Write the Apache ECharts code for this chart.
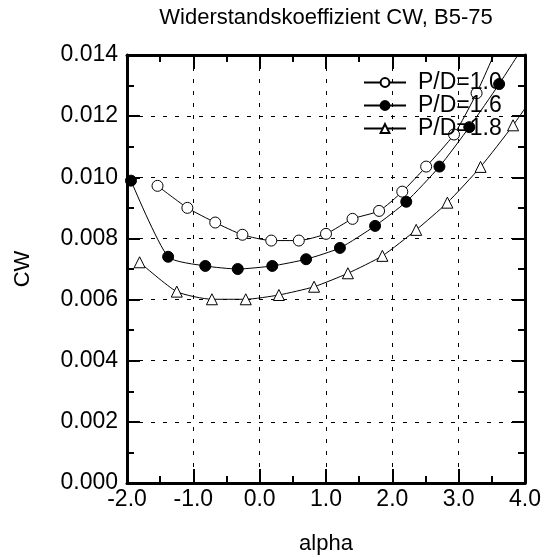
<!DOCTYPE html>
<html>
<head>
<meta charset="utf-8">
<script src="https://cdn.jsdelivr.net/npm/echarts@6/dist/echarts.min.js"></script>
<style>html,body{margin:0;padding:0;background:#fff}#c{width:544px;height:557px}</style>
</head>
<body>
<div id="c"></div>
<script>
// Data
var titleText = 'Widerstandskoeffizient CW, B5-75';
var xName = 'alpha';
var yName = 'CW';
var seriesNames = ['P/D=1.0', 'P/D=1.6', 'P/D=1.8'];
// P/D=1.0 (open circles)
var alpha10 = [-1.54, -1.09, -0.67, -0.26, 0.175, 0.59, 1.00, 1.40, 1.80, 2.15, 2.51, 2.93, 3.27, 3.65];
var cw10    = [0.00972, 0.00900, 0.00852, 0.00812, 0.00793, 0.00793, 0.00815, 0.00864, 0.00890, 0.00953, 0.01035, 0.01140, 0.01275, 0.01460];
// P/D=1.6 (filled circles)
var alpha16 = [-1.94, -1.38, -0.82, -0.33, 0.19, 0.70, 1.21, 1.74, 2.21, 2.71, 3.16, 3.61, 4.10];
var cw16    = [0.00989, 0.00740, 0.00710, 0.00700, 0.00710, 0.00732, 0.00769, 0.00841, 0.00920, 0.01035, 0.01164, 0.01305, 0.01470];
// P/D=1.8 (triangles)
var alpha18 = [-1.81, -1.25, -0.72, -0.21, 0.29, 0.82, 1.33, 1.85, 2.36, 2.83, 3.33, 3.82, 4.30];
var cw18    = [0.00722, 0.00626, 0.00601, 0.00601, 0.00615, 0.00642, 0.00686, 0.00743, 0.00828, 0.00917, 0.01034, 0.01170, 0.01320];
// Axis settings
var xMin = -2, xMax = 4, xStep = 1;
var yMin = 0, yMax = 0.014, yStep = 0.002;

function zip(a, b) { return a.map(function (v, i) { return [v, b[i]]; }); }

var FONT = 'Liberation Sans, Arial, sans-serif';
var axisLineStyle = { color: '#000', width: 3 };

function makeX(pos, show) {
  return {
    type: 'value', position: pos, min: xMin, max: xMax, interval: xStep,
    name: show ? xName : '', nameLocation: 'middle', nameGap: 50,
    nameTextStyle: { fontFamily: FONT, fontSize: 22, color: '#000' },
    axisLine: { show: true, onZero: false, lineStyle: axisLineStyle },
    axisTick: { show: true, inside: true, length: 14, lineStyle: { color: '#000', width: 2 } },
    minorTick: { show: true, splitNumber: 2, length: 7, lineStyle: { color: '#000', width: 2 } },
    axisLabel: { show: show, fontFamily: FONT, fontSize: 23, color: '#000', margin: 5,
      formatter: function (v) { return v.toFixed(1); } },
    splitLine: { show: show, lineStyle: { color: '#000', width: 1, type: [4, 8] } }
  };
}
function makeY(pos, show) {
  return {
    type: 'value', position: pos, min: yMin, max: yMax, interval: yStep,
    name: show ? yName : '', nameLocation: 'middle', nameGap: 93, nameRotate: 90,
    nameTextStyle: { fontFamily: FONT, fontSize: 22, color: '#000' },
    axisLine: { show: true, onZero: false, lineStyle: axisLineStyle },
    axisTick: { show: true, inside: true, length: 13, lineStyle: { color: '#000', width: 2 } },
    minorTick: { show: true, splitNumber: 2, length: 7, lineStyle: { color: '#000', width: 2 } },
    axisLabel: { show: show, fontFamily: FONT, fontSize: 23, color: '#000', margin: 9,
      formatter: function (v) { return v.toFixed(3); } },
    splitLine: { show: show, lineStyle: { color: '#000', width: 1, type: [4, 8] } }
  };
}

function mkSeries(name, data, symbol, fill) {
  return {
    name: name, type: 'line', data: data, symbol: symbol, symbolSize: 11,
    showAllSymbol: true, clip: true, smooth: 0.2,
    lineStyle: { color: '#000', width: 1 },
    itemStyle: { color: fill, borderColor: '#000', borderWidth: 1 },
    emphasis: { disabled: true }, z: 3
  };
}

var chart = echarts.init(document.getElementById('c'), null, { renderer: 'canvas' });
chart.setOption({
  animation: false,
  backgroundColor: '#fff',
  title: {
    text: titleText, left: 321, top: 2, textAlign: 'center',
    textStyle: { fontFamily: FONT, fontSize: 22, fontWeight: 'normal', color: '#000' }
  },
  grid: { left: 127, right: 19, top: 55, bottom: 74, containLabel: false, outerBoundsMode: 'none' },
  legend: {
    orient: 'vertical', left: 363, top: 71, itemGap: 0, padding: 0,
    itemWidth: 42, itemHeight: 11,
    data: seriesNames,
    textStyle: { fontFamily: FONT, fontSize: 23, color: '#000', lineHeight: 22.5, padding: [0, 0, 0, 7] },
    backgroundColor: 'transparent'
  },
  xAxis: [makeX('bottom', true), makeX('top', false)],
  yAxis: [makeY('left', true), makeY('right', false)],
  series: [
    mkSeries(seriesNames[0], zip(alpha10, cw10), 'circle', '#fff'),
    mkSeries(seriesNames[1], zip(alpha16, cw16), 'circle', '#000'),
    mkSeries(seriesNames[2], zip(alpha18, cw18), 'triangle', '#fff')
  ]
});
</script>
</body>
</html>
